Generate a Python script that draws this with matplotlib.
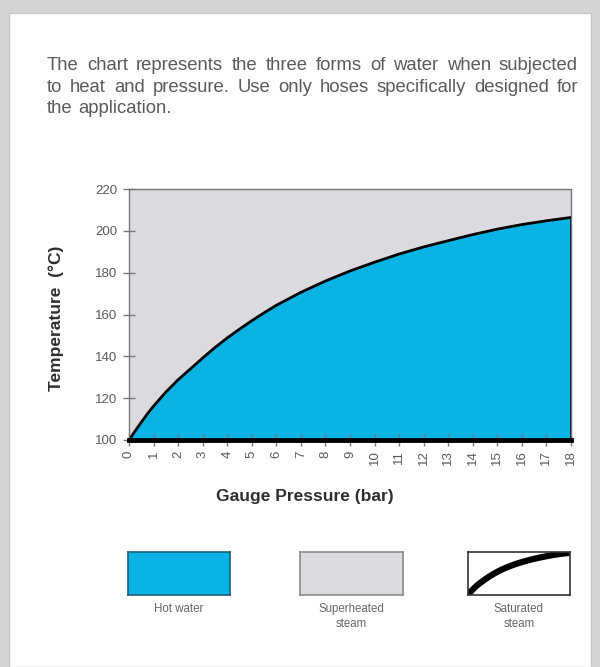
import matplotlib
matplotlib.use("Agg")
import matplotlib.pyplot as plt
from matplotlib.patches import Rectangle

plt.rcParams['font.family'] = ['Liberation Sans', 'DejaVu Sans']

# values (extra readings where the curve bends most)
pressure_bar = [0, 0.25, 0.5, 0.75, 1, 1.5, 2, 2.5, 3, 3.5, 4, 4.5, 5, 5.5, 6,
                7, 8, 9, 10, 11, 12, 13, 14, 15, 16, 17, 18]
temperature_c = [100, 104.3, 108.5, 112.5, 116.2, 122.9, 128.8, 134.0, 139.2,
                 144.2, 148.8, 153.0, 157.0, 160.8, 164.4, 170.6, 176.0, 180.8,
                 185.0, 188.9, 192.3, 195.3, 198.2, 200.8, 203.0, 204.8, 206.4]
x_ticks = list(range(0, 19))
y_ticks = [100, 120, 140, 160, 180, 200, 220]

intro_lines = [
    "The chart represents the three forms of water when subjected",
    "to heat and pressure. Use only hoses specifically designed for",
    "the application.",
]
legend_labels = ["Hot water", "Superheated\nsteam", "Saturated\nsteam"]

W, H = 600, 667
BLUE = '#09b3e3'
STEAM = '#dcdadf'
TEXT = '#5a5a5a'


def box(x0, y0, x1, y1):
    # pixel box (top-left origin) -> figure fraction rect
    return [x0 / W, 1 - y1 / H, (x1 - x0) / W, (y1 - y0) / H]


def justified(fig, line, x0, x1, y, stretch=True, **kw):
    words = line.split()
    texts = [fig.text(0, 1 - y / H, w, va='baseline', ha='left', **kw) for w in words]
    r = fig.canvas.get_renderer()
    widths = [t.get_window_extent(r).width for t in texts]
    space = texts[0].get_fontsize() * 100 / 72 * 0.28
    gap = (x1 - x0 - sum(widths)) / (len(words) - 1) if stretch else space
    x = x0
    for t, w in zip(texts, widths):
        t.set_x(x / W)
        x += w + gap


fig = plt.figure(figsize=(6, 6.67), dpi=100, facecolor='#d4d4d4')
fig.patches.append(Rectangle((9 / W, 0), 582 / W, 1 - 13 / H, transform=fig.transFigure,
                             facecolor='white', edgecolor='#c8c8c8', lw=1, zorder=-5))

for i, line in enumerate(intro_lines):
    justified(fig, line, 47, 578, 70 + i * 21.5, stretch=(i < 2),
              fontsize=13.3, color=TEXT)

# main chart
ax = fig.add_axes(box(129, 189, 571, 440))
ax.set_facecolor(STEAM)
ax.fill_between(pressure_bar, 100, temperature_c, color=BLUE, lw=0)
ax.plot(pressure_bar, temperature_c, color='black', lw=2, solid_joinstyle='round')
ax.vlines(pressure_bar[-1], 100, temperature_c[-1], color='black', lw=2)
ax.set_xlim(0, 18)
ax.set_ylim(100, 220)
ax.set_xticks(x_ticks)
ax.set_xticklabels([str(p) for p in x_ticks], rotation=90)
ax.set_yticks(y_ticks)
for side in ['left', 'top', 'right']:
    ax.spines[side].set_color('#777777')
    ax.spines[side].set_linewidth(1)
ax.spines['bottom'].set_color('black')
ax.spines['bottom'].set_linewidth(3.5)
ax.tick_params(direction='inout', length=9, width=1, color='#777777',
               labelcolor=TEXT, labelsize=9.5, pad=3)
ax.tick_params(axis='y', pad=4)

fig.text(305 / W, 1 - 497 / H, "Gauge Pressure (bar)", ha='center', va='center',
         fontsize=12.5, fontweight='bold', color='#2e2e2e')
fig.text(56 / W, 1 - 318 / H, "Temperature  (\u00b0C)", ha='center', va='center',
         rotation=90, fontsize=12.5, fontweight='bold', color='#2e2e2e')

# legend swatches
swatches = [(128, 230), (300, 403), (468, 570)]
for k, ((x0, x1), label) in enumerate(zip(swatches, legend_labels)):
    lax = fig.add_axes(box(x0, 552, x1, 595))
    lax.set_xticks([])
    lax.set_yticks([])
    if k == 0:
        lax.set_facecolor(BLUE)
        edge = '#1a5f7a'
    elif k == 1:
        lax.set_facecolor(STEAM)
        edge = '#8a8a8a'
    else:
        lax.set_facecolor('white')
        edge = '#333333'
        lax.plot(pressure_bar, temperature_c, color='black', lw=4.5,
                 solid_capstyle='butt', solid_joinstyle='round')
        lax.set_xlim(0, 18)
        lax.set_ylim(100, temperature_c[-1] + 2)
    for s in lax.spines.values():
        s.set_color(edge)
        s.set_linewidth(1.2)
    fig.text((x0 + x1) / 2 / W, 1 - 603 / H, label, ha='center', va='top',
             fontsize=8.3, color='#666666', linespacing=1.3)

fig.savefig('out.png', dpi=100, facecolor=fig.get_facecolor())
